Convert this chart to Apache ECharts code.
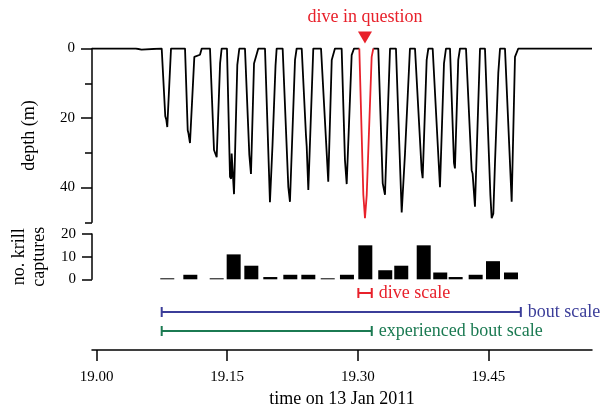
<!DOCTYPE html>
<html><head><meta charset="utf-8">
<script src="https://cdn.jsdelivr.net/npm/echarts@6/dist/echarts.min.js"></script>
<style>html,body{margin:0;padding:0;background:#fff}#c{width:602px;height:410px}</style>
</head><body><div id="c"></div>
<script>
// time (decimal hour, 13 Jan 2011), depth (m)
const depthProfile = [
[18.9946,0],[19.0450,0],[19.0460,0.3],[19.0515,0.3],[19.0525,0],
[19.0747,0],[19.0788,19.5],[19.0800,20.5],[19.0811,22.6],[19.0854,0],
[19.1015,0],[19.1046,23.5],[19.1055,24.5],[19.1072,27.2],[19.1122,2.4],[19.1187,1.8],[19.1207,0],
[19.1302,0],[19.1348,29.2],[19.1379,31.3],[19.1418,4.3],[19.1436,0],
[19.1497,0],[19.1532,36.9],[19.1545,37.5],[19.1551,30.2],[19.1578,41.9],[19.1616,4.7],[19.1639,0],
[19.1704,0],[19.1754,30.6],[19.1773,36.1],[19.1808,4.3],[19.1857,0],
[19.1934,0],[19.1991,44.2],[19.2020,28.0],[19.2055,5.0],[19.2068,0],
[19.2137,0],[19.2202,39.8],[19.2221,44.1],[19.2279,3.3],[19.2298,0],
[19.2356,0],[19.2405,25.0],[19.2413,28.0],[19.2432,40.7],[19.2489,0],
[19.2578,0],[19.2661,38.3],[19.2701,3.3],[19.2738,0],
[19.2815,0],[19.2853,32.1],[19.2873,39.0],[19.2930,1.9],[19.2957,0],
[19.3018,0],[19.3064,42.0],[19.3083,48.8],[19.3103,42.2],[19.3160,2.4],[19.3179,0],
[19.3236,0],[19.3287,38.8],[19.3313,42.1],[19.3333,27.3],[19.3371,0],
[19.3439,0],[19.3505,47.2],[19.3543,30.2],[19.3600,0],
[19.3658,0],[19.3734,35.0],[19.3746,37.3],[19.3792,3.3],[19.3811,0],
[19.3861,0],[19.3945,39.9],[19.3991,4.3],[19.4014,0],
[19.4060,0],[19.4106,33.0],[19.4117,34.5],[19.4155,3.3],[19.4175,0],
[19.4244,0],[19.4309,35.0],[19.4320,36.0],[19.4347,45.5],[19.4405,0],
[19.4462,0],[19.4524,42.1],[19.4539,48.8],[19.4558,47.5],[19.4577,33.0],[19.4615,7.1],[19.4635,0],
[19.4692,0],[19.4769,44.1],[19.4807,2.4],[19.4826,2.0],[19.4845,0],
[19.5692,0]
];
const questionDiveWindow = [19.3018, 19.3179];
const krillTimes = [19.0811,19.1076,19.1379,19.1574,19.1777,19.1995,19.2225,19.2432,19.2655,19.2876,
                    19.3087,19.3316,19.3500,19.3758,19.3948,19.4125,19.4355,19.4554,19.4761];
const krillCaptures = [0,2,0,11,6,1,2,2,0,2,15,4,6,15,3,1,2,8,3];
const depthTicks = [0,20,40];
const depthMinorTicks = [10,30,50];
const krillTicks = [0,10,20];
const timeTicks = [19.00,19.15,19.30,19.45];
const timeRange = [18.9946, 19.5692];
const scaleNames = ['dive scale','bout scale','experienced bout scale'];
const scaleStarts = [19.3007, 19.0747, 19.0747];
const scaleEnds = [19.3161, 19.4874, 19.3161];
const scaleColors = ['#e8212b','#3b3d99','#1b7a52'];
const scaleRows = ['axis','experienced bout scale','bout scale','dive scale'];

const font = "'Liberation Serif','Times New Roman',serif";
const black = '#000';
const axLine = {color:black, width:1.5};
const chart = echarts.init(document.getElementById('c'));

const before = depthProfile.filter(p => p[0] <= questionDiveWindow[0]);
const after = depthProfile.filter(p => p[0] >= questionDiveWindow[1]);
const qDive = depthProfile.filter(p => p[0] >= questionDiveWindow[0] && p[0] <= questionDiveWindow[1]);
const qBottom = qDive.reduce((a,b) => b[1] > a[1] ? b : a);

const hiddenX = (g) => ({gridIndex:g, type:'value', min:timeRange[0], max:timeRange[1], show:false});

const scaleSeries = scaleNames.map((n,i) => ({
  type:'line', xAxisIndex:2, yAxisIndex:3, name:n,
  data:[
    [scaleStarts[i], n],
    {value:[scaleEnds[i], n],
     label:{show:true, position:'right', distance:6, formatter:n, color:scaleColors[i], fontSize:18, fontFamily:font}}
  ],
  symbol:'rect', symbolSize:[2,10], showSymbol:true,
  lineStyle:{color:scaleColors[i], width:2}, itemStyle:{color:scaleColors[i]},
  silent:true, z:3
}));

chart.setOption({
  animation:false,
  textStyle:{fontFamily:font},
  grid:[
    {left:92, right:10, top:48.5, height:173.8},
    {left:92, right:10, top:234, height:45.3},
    {left:92, right:10, top:293, height:57}
  ],
  xAxis:[
    hiddenX(0), hiddenX(1),
    {gridIndex:2, type:'value', min:timeRange[0], max:timeRange[1],
     axisLine:{show:true, lineStyle:axLine},
     axisTick:{show:true, length:11, customValues:timeTicks, lineStyle:axLine},
     axisLabel:{customValues:timeTicks, formatter:v => v.toFixed(2), fontSize:15, color:black, margin:20, fontFamily:font},
     splitLine:{show:false},
     name:'time on 13 Jan 2011', nameLocation:'middle', nameGap:40,
     nameTextStyle:{fontSize:18, color:black, fontFamily:font}}
  ],
  yAxis:[
    {gridIndex:0, type:'value', inverse:true, min:0, max:50, position:'left',
     axisLine:{show:true, lineStyle:axLine},
     axisTick:{show:true, length:11, customValues:depthTicks, lineStyle:axLine},
     axisLabel:{customValues:depthTicks, fontSize:15, color:black, margin:17, fontFamily:font},
     splitLine:{show:false},
     name:'depth (m)', nameLocation:'middle', nameGap:54,
     nameTextStyle:{fontSize:18, color:black, fontFamily:font}},
    {gridIndex:0, type:'value', inverse:true, min:0, max:50, position:'left',
     axisLine:{show:false},
     axisTick:{show:true, length:7, customValues:depthMinorTicks, lineStyle:axLine},
     axisLabel:{show:false}, splitLine:{show:false}},
    {gridIndex:1, type:'value', min:0, max:20, interval:10, position:'left',
     axisLine:{show:true, lineStyle:axLine},
     axisTick:{show:true, length:10, customValues:krillTicks, lineStyle:axLine},
     axisLabel:{customValues:krillTicks, fontSize:15, color:black, margin:16, fontFamily:font},
     splitLine:{show:false},
     name:'no. krill\ncaptures', nameLocation:'middle', nameGap:43,
     nameTextStyle:{fontSize:18, color:black, fontFamily:font, lineHeight:20}},
    {gridIndex:2, type:'category', data:scaleRows, boundaryGap:false, show:false}
  ],
  series:[
    {type:'line', xAxisIndex:0, yAxisIndex:0, data:before, showSymbol:false, symbol:'none',
     lineStyle:{color:black, width:1.8}, silent:true},
    {type:'line', xAxisIndex:0, yAxisIndex:0, data:after, showSymbol:false, symbol:'none',
     lineStyle:{color:black, width:1.8}, silent:true},
    {type:'line', xAxisIndex:0, yAxisIndex:0, data:qDive, showSymbol:false, symbol:'none',
     lineStyle:{color:scaleColors[0], width:1.8}, silent:true, z:4,
     markPoint:{
       silent:true,
       data:[{coord:[qBottom[0], 0], symbol:'triangle', symbolRotate:180, symbolSize:[14,12], symbolOffset:[0,-11],
              itemStyle:{color:scaleColors[0]},
              label:{show:true, position:'top', distance:5, formatter:'dive in question', color:scaleColors[0], fontSize:18, fontFamily:font}}]
     }},
    {type:'bar', xAxisIndex:1, yAxisIndex:2, data:krillTimes.map((t,i) => [t, krillCaptures[i]]),
     barWidth:14, barMinHeight:1, itemStyle:{color:black}, silent:true},
    ...scaleSeries
  ]
});
</script></body></html>
